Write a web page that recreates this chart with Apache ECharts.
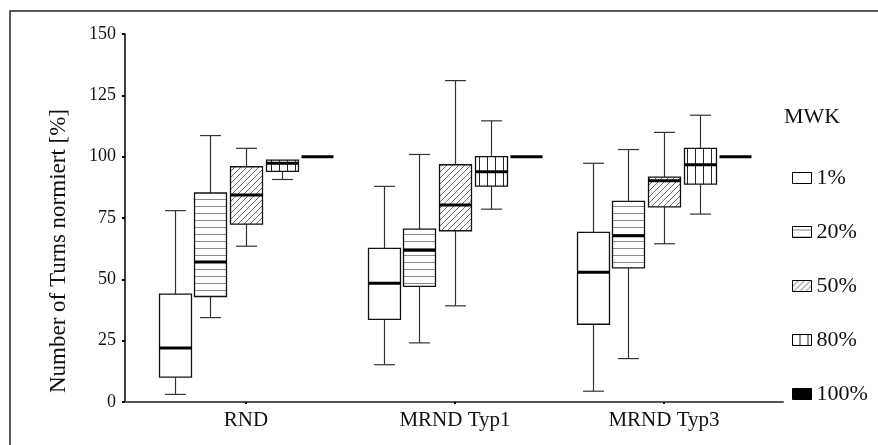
<!DOCTYPE html>
<html>
<head>
<meta charset="utf-8">
<script src="https://cdn.jsdelivr.net/npm/echarts@6/dist/echarts.min.js"></script>
<style>
html,body{margin:0;padding:0;background:#fff;}
#chart{width:878px;height:445px;}
</style>
</head>
<body>
<div id="chart"></div>
<script>
// ---- data ----
const categories = ['RND', 'MRND Typ1', 'MRND Typ3'];
const mwkLevels = ['1%', '20%', '50%', '80%', '100%'];
const yTicks = [0, 25, 50, 75, 100, 125, 150];
// each entry: [min, Q1, median, Q3, max] per category
const mwk1 = [[3.1, 10.1, 22.0, 44.0, 78.0], [15.2, 33.7, 48.4, 62.6, 87.9], [4.4, 31.7, 52.9, 69.1, 97.3]];
const mwk20 = [[34.4, 43.0, 57.1, 85.2, 108.6], [24.1, 47.1, 61.9, 70.5, 100.9], [17.7, 54.7, 67.8, 81.8, 102.9]];
const mwk50 = [[63.5, 72.5, 84.4, 95.9, 103.4], [39.2, 69.8, 80.3, 96.7, 131.0], [64.5, 79.5, 90.2, 91.7, 109.9]];
const mwk80 = [[90.7, 94.0, 97.3, 98.6, 98.6], [78.6, 88.0, 93.9, 100.0, 114.6], [76.6, 88.8, 96.7, 103.4, 116.9]];
const mwk100 = [[100, 100, 100, 100, 100], [100, 100, 100, 100, 100], [100, 100, 100, 100, 100]];
const seriesValues = [mwk1, mwk20, mwk50, mwk80, mwk100];

// ---- patterns ----
function makePattern(w, h, draw) {
  const c = document.createElement('canvas');
  c.width = w; c.height = h;
  const ctx = c.getContext('2d');
  draw(ctx, w, h);
  return { image: c, repeat: 'repeat' };
}
const patterns = [
  makePattern(8, 8, (ctx, w, h) => { ctx.fillStyle = '#fff'; ctx.fillRect(0, 0, w, h); }),
  makePattern(8, 7, (ctx, w, h) => {
    ctx.fillStyle = '#fff'; ctx.fillRect(0, 0, w, h);
    ctx.fillStyle = '#8a8a8a'; ctx.fillRect(0, 3, w, 1);
  }),
  makePattern(6, 6, (ctx, w, h) => {
    ctx.fillStyle = '#fff'; ctx.fillRect(0, 0, w, h);
    ctx.strokeStyle = '#444'; ctx.lineWidth = 0.8;
    ctx.beginPath();
    ctx.moveTo(-1, 7); ctx.lineTo(7, -1);
    ctx.moveTo(-1, 1); ctx.lineTo(1, -1);
    ctx.moveTo(5, 7); ctx.lineTo(7, 5);
    ctx.stroke();
  }),
  makePattern(8, 8, (ctx, w, h) => {
    ctx.fillStyle = '#fff'; ctx.fillRect(0, 0, w, h);
    ctx.fillStyle = '#222'; ctx.fillRect(7, 0, 1, h);
  }),
  makePattern(8, 8, (ctx, w, h) => { ctx.fillStyle = '#000'; ctx.fillRect(0, 0, w, h); })
];

const FONT = 'Liberation Serif';

function renderItem(params, api) {
  const si = params.seriesIndex;
  const cat = api.value(0);
  const band = api.size([1, 0])[0];
  const off = (si - 2) * band * 0.17;
  const bw = band * 0.153;
  const cw = band * 0.1;
  const pMin = api.coord([cat, api.value(1)]);
  const pQ1 = api.coord([cat, api.value(2)]);
  const pMed = api.coord([cat, api.value(3)]);
  const pQ3 = api.coord([cat, api.value(4)]);
  const pMax = api.coord([cat, api.value(5)]);
  const x = Math.round(pMin[0] + off) + 0.5;
  const wStyle = { stroke: '#333', lineWidth: 1.2 };
  const children = [];
  if (pMax[1] < pQ3[1] - 0.5) {
    children.push({ type: 'line', shape: { x1: x, y1: pQ3[1], x2: x, y2: pMax[1] }, style: wStyle });
    children.push({ type: 'line', shape: { x1: x - cw / 2, y1: pMax[1], x2: x + cw / 2, y2: pMax[1] }, style: wStyle });
  }
  if (pMin[1] > pQ1[1] + 0.5) {
    children.push({ type: 'line', shape: { x1: x, y1: pQ1[1], x2: x, y2: pMin[1] }, style: wStyle });
    children.push({ type: 'line', shape: { x1: x - cw / 2, y1: pMin[1], x2: x + cw / 2, y2: pMin[1] }, style: wStyle });
  }
  if (pQ1[1] - pQ3[1] > 0.5) {
    children.push({
      type: 'rect',
      shape: { x: x - bw / 2, y: pQ3[1], width: bw, height: pQ1[1] - pQ3[1] },
      style: { fill: patterns[si], stroke: '#111', lineWidth: 1.3 }
    });
  }
  children.push({ type: 'line', shape: { x1: x - bw / 2, y1: pMed[1], x2: x + bw / 2, y2: pMed[1] }, style: { stroke: '#000', lineWidth: 3 } });
  return { type: 'group', children: children };
}

const series = mwkLevels.map((name, i) => ({
  name: name,
  type: 'custom',
  xAxisIndex: 0,
  yAxisIndex: 0,
  renderItem: renderItem,
  encode: { x: 0, y: [1, 2, 3, 4, 5] },
  itemStyle: { color: patterns[i], borderColor: '#000', borderWidth: 1 },
  data: seriesValues[i].map((v, c) => [c].concat(v)),
  z: 2
}));

const chart = echarts.init(document.getElementById('chart'), null, { renderer: 'canvas' });
chart.setOption({
  animation: false,
  backgroundColor: '#fff',
  title: {
    text: 'MWK', left: 784, top: 106, padding: 0,
    textStyle: { fontFamily: FONT, fontSize: 22, fontWeight: 'normal', color: '#111' }
  },
  legend: {
    orient: 'vertical', left: 792, top: 166, padding: 0,
    itemWidth: 19, itemHeight: 11, itemGap: 30,
    icon: 'rect',
    itemStyle: { borderColor: '#000', borderWidth: 1 },
    textStyle: { fontFamily: FONT, fontSize: 22, color: '#111', lineHeight: 24 },
    data: mwkLevels.map((n, i) => ({ name: n, icon: 'rect', itemStyle: { color: patterns[i], borderColor: '#000', borderWidth: 1 } }))
  },
  graphic: [{
    type: 'rect', shape: { x: 10, y: 11, width: 900, height: 500 },
    style: { fill: 'none', stroke: '#222', lineWidth: 1.5 }, silent: true
  }],
  grid: [
    { left: 141.5, right: 109.5, top: 34, bottom: 43 },
    { left: 123, right: 95, top: 34, bottom: 43 }
  ],
  xAxis: [
    {
      type: 'category', gridIndex: 0, data: categories, boundaryGap: true,
      axisLine: { show: false },
      axisTick: { show: true, alignWithLabel: true, length: 2, lineStyle: { color: '#000', width: 2 } },
      axisLabel: { fontFamily: FONT, fontSize: 21, color: '#111', margin: 8 },
      splitLine: { show: false }
    },
    {
      type: 'value', gridIndex: 1, min: 0, max: 1,
      axisLine: { show: true, onZero: false, lineStyle: { color: '#555', width: 2 } },
      axisTick: { show: false }, axisLabel: { show: false }, splitLine: { show: false }
    }
  ],
  yAxis: [
    {
      type: 'value', gridIndex: 0, min: 0, max: 150, interval: 25, offset: 16.5,
      name: 'Number of Turns normiert [%]', nameLocation: 'middle', nameRotate: 90, nameGap: 55,
      nameTextStyle: { fontFamily: FONT, fontSize: 23, color: '#111', padding: [0, 66, 0, 0] },
      axisLine: { show: true, lineStyle: { color: '#000', width: 1.5 } },
      axisTick: { show: true, length: 3, lineStyle: { color: '#000', width: 2 } },
      axisLabel: { fontFamily: FONT, fontSize: 18, color: '#111', margin: 9,
        formatter: v => (yTicks.indexOf(v) >= 0 ? String(v) : '') },
      splitLine: { show: false }
    },
    {
      type: 'value', gridIndex: 1, min: 0, max: 1, show: false
    }
  ],
  series: series
});
</script>
</body>
</html>
